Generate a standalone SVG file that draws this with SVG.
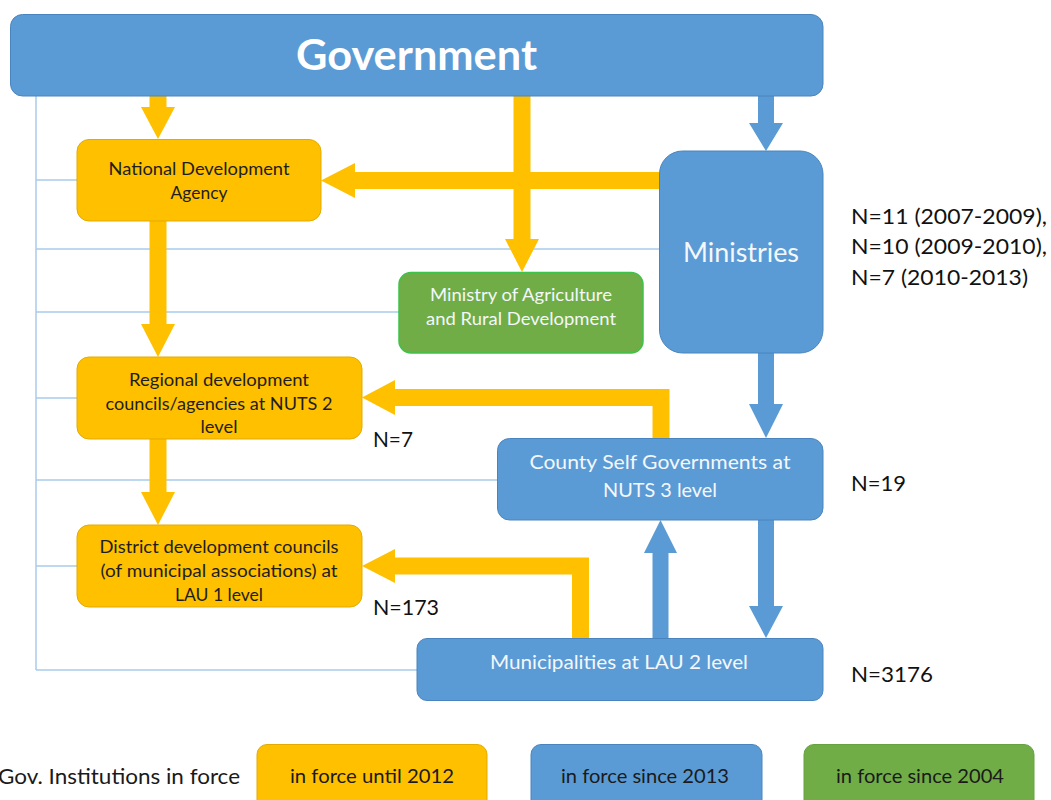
<svg xmlns="http://www.w3.org/2000/svg" width="1051" height="800" viewBox="0 0 1051 800">
<style>
  text { font-family: Lato, "Liberation Sans", sans-serif; }
  .blue { fill: #5B9BD5; stroke: #4A84BE; stroke-width: 1; }
  .yellow { fill: #FFC000; stroke: #E3AB00; stroke-width: 1; }
  .green { fill: #70AD47; stroke: #3EC24A; stroke-width: 1.5; }
  .legend-green { fill: #70AD47; stroke: #66A23F; stroke-width: 1; }
  .dark { fill: #1E1E1E; font-size: 17.5px; text-anchor: middle; }
  .light { fill: #F4F7FB; font-size: 17.5px; text-anchor: middle; }
  .lbl { fill: #111111; font-size: 22px; }
  .leg { fill: #1A1A1A; font-size: 20px; text-anchor: middle; }
  .thin { stroke: #A9CBEB; stroke-width: 1.5; fill: none; }
  .ya { fill: #FFC000; }
  .ba { fill: #5B9BD5; }
</style>

<g id="connectors">
  <g id="thin-lines">
    <line class="thin" x1="36" y1="96" x2="36" y2="670"/>
    <line class="thin" x1="36" y1="180" x2="77" y2="180"/>
    <line class="thin" x1="36" y1="249" x2="659" y2="249"/>
    <line class="thin" x1="36" y1="312" x2="399" y2="312"/>
    <line class="thin" x1="36" y1="398" x2="77" y2="398"/>
    <line class="thin" x1="36" y1="480" x2="497" y2="480"/>
    <line class="thin" x1="36" y1="566" x2="77" y2="566"/>
    <line class="thin" x1="36" y1="670" x2="417" y2="670"/>
  </g>
  <polygon class="ya" points="149.5,96 166.5,96 166.5,107 175,107 158,139 141,107 149.5,107"/>
  <polygon class="ya" points="149.5,221 166.5,221 166.5,324 175,324 158,357 141,324 149.5,324"/>
  <polygon class="ya" points="149.5,439 166.5,439 166.5,492 175,492 158,525 141,492 149.5,492"/>
  <polygon class="ya" points="659,172 355,172 355,163 321,180.5 355,198 355,189 659,189"/>
  <polygon class="ya" points="513.5,96 530.5,96 530.5,239 539,239 522,272 505,239 513.5,239"/>
  <polygon class="ya" points="652.5,438 652.5,406 395,406 395,415 362,397.5 395,380 395,389 669.5,389 669.5,438"/>
  <polygon class="ya" points="572,638 572,574.5 395,574.5 395,583 362,566 395,549 395,557.5 589,557.5 589,638"/>
  <polygon class="ba" points="758,96 774,96 774,123 783,123 766,151 749,123 758,123"/>
  <polygon class="ba" points="758,353 774,353 774,404 783,404 766,438 749,404 758,404"/>
  <polygon class="ba" points="758,520 774,520 774,606 783,606 766,638 749,606 758,606"/>
  <polygon class="ba" points="652.5,638 668.5,638 668.5,553 677,553 660.5,520 644,553 652.5,553"/>
</g>

<g id="government">
  <rect class="blue" x="10.5" y="14.5" width="812.5" height="81.5" rx="12"/>
  <text x="416.5" y="70" fill="#FFFFFF" font-size="42" font-weight="bold" text-anchor="middle" textLength="241" lengthAdjust="spacingAndGlyphs">Government</text>
</g>

<g id="nda">
  <rect class="yellow" x="77" y="139.5" width="244" height="81.5" rx="12"/>
  <text class="dark" x="199" y="175" textLength="181" lengthAdjust="spacingAndGlyphs">National Development</text>
  <text class="dark" x="199" y="199" textLength="57" lengthAdjust="spacingAndGlyphs">Agency</text>
</g>

<g id="ministry-agriculture">
  <rect class="green" x="399" y="272.5" width="244" height="80.5" rx="12"/>
  <text class="light" x="521" y="301" textLength="182" lengthAdjust="spacingAndGlyphs">Ministry of Agriculture</text>
  <text class="light" x="521" y="325" textLength="190" lengthAdjust="spacingAndGlyphs">and Rural Development</text>
</g>

<g id="ministries">
  <rect class="blue" x="659.5" y="151" width="163.5" height="202" rx="23"/>
  <text x="741" y="262" fill="#F4F7FB" font-size="27" text-anchor="middle" textLength="116" lengthAdjust="spacingAndGlyphs">Ministries</text>
</g>

<g id="regional">
  <rect class="yellow" x="77" y="357" width="285" height="82" rx="12"/>
  <text class="dark" x="219" y="386" textLength="180" lengthAdjust="spacingAndGlyphs">Regional development</text>
  <text class="dark" x="219" y="409.5" textLength="227" lengthAdjust="spacingAndGlyphs">councils/agencies  at NUTS 2</text>
  <text class="dark" x="219" y="433" textLength="37" lengthAdjust="spacingAndGlyphs">level</text>
</g>

<g id="district">
  <rect class="yellow" x="77" y="525" width="285" height="82" rx="12"/>
  <text class="dark" x="219" y="553" textLength="239" lengthAdjust="spacingAndGlyphs">District development  councils</text>
  <text class="dark" x="219" y="577" textLength="237" lengthAdjust="spacingAndGlyphs">(of municipal associations) at</text>
  <text class="dark" x="219" y="601" textLength="88" lengthAdjust="spacingAndGlyphs">LAU 1 level</text>
</g>

<g id="county">
  <rect class="blue" x="497.5" y="438.5" width="325.5" height="81.5" rx="12"/>
  <text class="light" x="660" y="469" font-size="19.5" style="font-size:19.5px" textLength="261" lengthAdjust="spacingAndGlyphs">County Self Governments  at</text>
  <text class="light" x="660" y="497" style="font-size:19.5px" textLength="114" lengthAdjust="spacingAndGlyphs">NUTS 3 level</text>
</g>

<g id="municipalities">
  <rect class="blue" x="417" y="638.5" width="406" height="62" rx="10"/>
  <text class="light" x="619" y="669" style="font-size:19.5px" textLength="258" lengthAdjust="spacingAndGlyphs">Municipalities at LAU 2 level</text>
</g>

<g id="count-labels">
  <text class="lbl" x="851" y="224" textLength="196" lengthAdjust="spacingAndGlyphs">N=11 (2007-2009),</text>
  <text class="lbl" x="851" y="254" textLength="196" lengthAdjust="spacingAndGlyphs">N=10 (2009-2010),</text>
  <text class="lbl" x="851" y="285" textLength="177" lengthAdjust="spacingAndGlyphs">N=7 (2010-2013)</text>
  <text class="lbl" x="373" y="447" textLength="40" lengthAdjust="spacingAndGlyphs">N=7</text>
  <text class="lbl" x="373" y="615" textLength="66" lengthAdjust="spacingAndGlyphs">N=173</text>
  <text class="lbl" x="851" y="491" textLength="55" lengthAdjust="spacingAndGlyphs">N=19</text>
  <text class="lbl" x="851" y="682" textLength="82" lengthAdjust="spacingAndGlyphs">N=3176</text>
</g>

<g id="legend">
  <text x="-2" y="784" fill="#1A1A1A" font-size="20.5" textLength="242" lengthAdjust="spacingAndGlyphs">Gov.  Institutions  in force</text>
  <rect class="yellow" x="257" y="744.5" width="230" height="70" rx="10"/>
  <text class="leg" x="372" y="783" textLength="164" lengthAdjust="spacingAndGlyphs">in force until 2012</text>
  <rect class="blue" x="531" y="744.5" width="231" height="70" rx="10"/>
  <text class="leg" x="645" y="783" textLength="168" lengthAdjust="spacingAndGlyphs">in force since 2013</text>
  <rect class="legend-green" x="804" y="744.5" width="230" height="70" rx="10"/>
  <text class="leg" x="920" y="783" textLength="168" lengthAdjust="spacingAndGlyphs">in force since 2004</text>
</g>
</svg>
